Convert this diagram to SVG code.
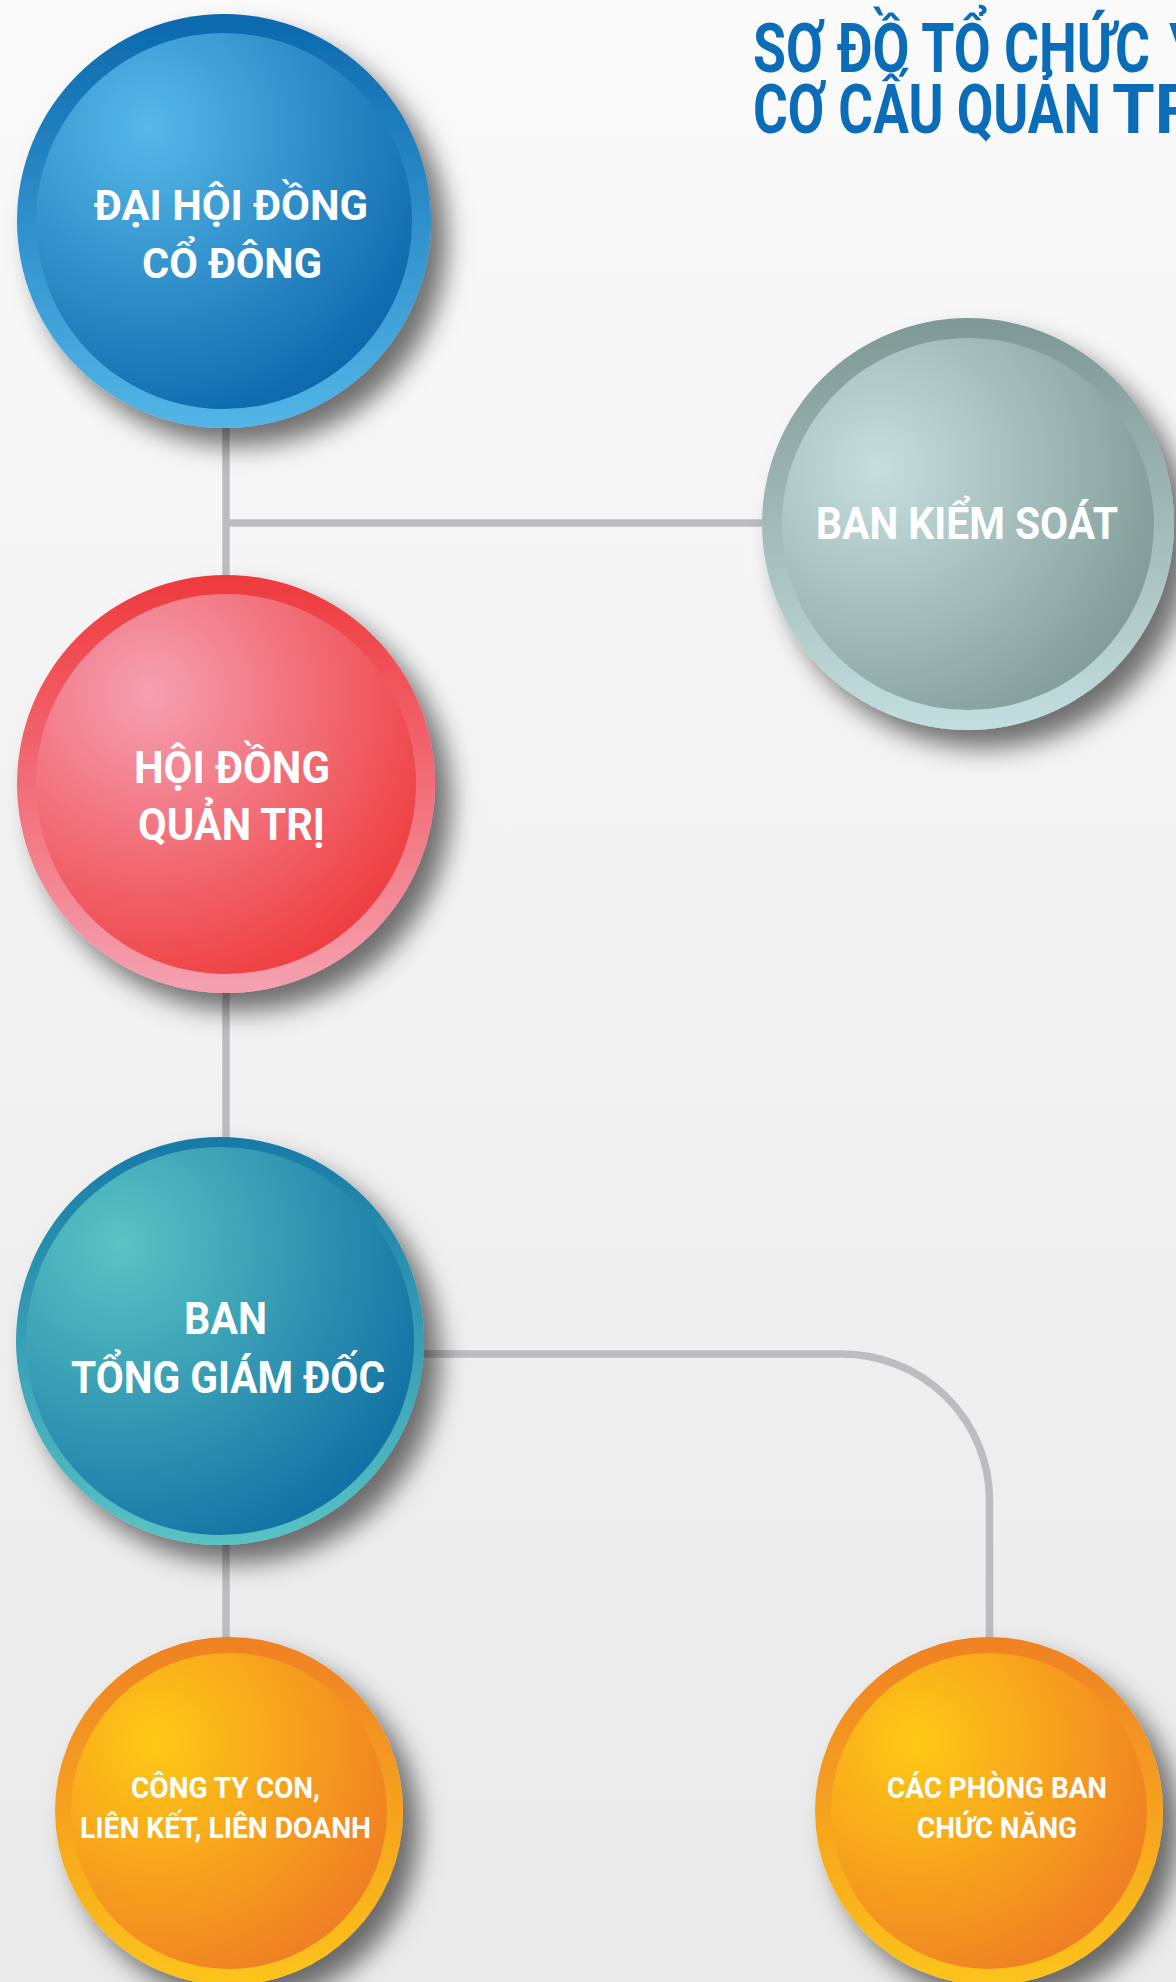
<svg xmlns="http://www.w3.org/2000/svg" width="1176" height="1982" viewBox="0 0 1176 1982">
<style>
.lbl{font-family:Roboto,"Liberation Sans",Arial,sans-serif;font-weight:700;fill:#ffffff}
.ttl{font-family:Roboto,"Liberation Sans",Arial,sans-serif;font-weight:700;fill:#0b6db7;font-size:69px}
.con{fill:none;stroke:#bcbdc0;stroke-width:7.5}
</style>
<defs>
<linearGradient id="bg" x1="0" y1="0" x2="0" y2="1"><stop offset="0" stop-color="#fafafa"/><stop offset="1" stop-color="#eaeaea"/></linearGradient>
<filter id="sh" x="-20%" y="-20%" width="150%" height="150%">
<feGaussianBlur in="SourceAlpha" stdDeviation="13"/>
<feOffset dx="16" dy="18" result="b"/>
<feFlood flood-color="#000" flood-opacity="0.55"/>
<feComposite in2="b" operator="in"/>
<feMerge><feMergeNode/><feMergeNode in="SourceGraphic"/></feMerge>
</filter>
<linearGradient id="r1" x1="0" y1="0" x2="0" y2="1"><stop offset="0" stop-color="#0b69ae"/><stop offset="1" stop-color="#53b6e7"/></linearGradient>
<radialGradient id="i1" cx="0.30" cy="0.25" r="0.85"><stop offset="0" stop-color="#56b9e9"/><stop offset="1" stop-color="#0b65aa"/></radialGradient>
<linearGradient id="r2" x1="0" y1="0" x2="0" y2="1"><stop offset="0" stop-color="#7e9895"/><stop offset="1" stop-color="#c3dede"/></linearGradient>
<radialGradient id="i2" cx="0.26" cy="0.35" r="0.85"><stop offset="0" stop-color="#c5dfdf"/><stop offset="1" stop-color="#7d9893"/></radialGradient>
<linearGradient id="r3" x1="0" y1="0" x2="0" y2="1"><stop offset="0" stop-color="#ee3a3d"/><stop offset="1" stop-color="#f5a1b1"/></linearGradient>
<radialGradient id="i3" cx="0.30" cy="0.26" r="0.85"><stop offset="0" stop-color="#f5a0b2"/><stop offset="1" stop-color="#ee3a3b"/></radialGradient>
<linearGradient id="r4" x1="0" y1="0" x2="0" y2="1"><stop offset="0" stop-color="#177aa7"/><stop offset="1" stop-color="#58c3c4"/></linearGradient>
<radialGradient id="i4" cx="0.24" cy="0.25" r="0.85"><stop offset="0" stop-color="#5ac4c3"/><stop offset="1" stop-color="#1272a5"/></radialGradient>
<linearGradient id="r5" x1="0" y1="0" x2="0" y2="1"><stop offset="0" stop-color="#ef8123"/><stop offset="1" stop-color="#fcc41b"/></linearGradient>
<radialGradient id="i5" cx="0.27" cy="0.28" r="0.85"><stop offset="0" stop-color="#fec916"/><stop offset="1" stop-color="#ef7c24"/></radialGradient>
</defs>
<rect width="1176" height="1982" fill="url(#bg)"/>

<g id="title">
<text class="ttl" x="753" y="72"><tspan textLength="397" lengthAdjust="spacingAndGlyphs">SƠ ĐỒ TỔ CHỨC</tspan> <tspan x="1169">VÀ</tspan></text>
<text class="ttl" x="753" y="133"><tspan textLength="348" lengthAdjust="spacingAndGlyphs">CƠ CẤU QUẢN</tspan> <tspan x="1112">TRỊ</tspan></text>
</g>

<g id="connectors">
<path class="con" d="M226 420 V580"/>
<path class="con" d="M226 523 H775"/>
<path class="con" d="M226 980 V1145"/>
<path class="con" d="M226 1354 H841 A148 146 0 0 1 989.5 1500 V1645"/>
<path class="con" d="M226 1530 V1645"/>
</g>

<g id="dai-hoi-dong-co-dong">
<g filter="url(#sh)"><circle cx="224" cy="221" r="207" fill="url(#r1)"/></g>
<circle cx="224" cy="221" r="188" fill="url(#i1)"/>
<text class="lbl" font-size="42" x="94" y="220" textLength="274" lengthAdjust="spacingAndGlyphs">ĐẠI HỘI ĐỒNG</text>
<text class="lbl" font-size="42" x="142" y="278" textLength="180" lengthAdjust="spacingAndGlyphs">CỔ ĐÔNG</text>
</g>

<g id="ban-kiem-soat">
<g filter="url(#sh)"><circle cx="968" cy="524" r="206" fill="url(#r2)"/></g>
<circle cx="968" cy="524" r="186" fill="url(#i2)"/>
<text class="lbl" font-size="44" x="816" y="539" textLength="302" lengthAdjust="spacingAndGlyphs">BAN KIỂM SOÁT</text>
</g>

<g id="hoi-dong-quan-tri">
<g filter="url(#sh)"><circle cx="226" cy="784" r="209" fill="url(#r3)"/></g>
<circle cx="226" cy="784" r="190" fill="url(#i3)"/>
<text class="lbl" font-size="45" x="134" y="783" textLength="196" lengthAdjust="spacingAndGlyphs">HỘI ĐỒNG</text>
<text class="lbl" font-size="45" x="138" y="840" textLength="187" lengthAdjust="spacingAndGlyphs">QUẢN TRỊ</text>
</g>

<g id="ban-tong-giam-doc">
<g filter="url(#sh)"><circle cx="220" cy="1341" r="204" fill="url(#r4)"/></g>
<circle cx="220" cy="1341" r="194" fill="url(#i4)"/>
<text class="lbl" font-size="44" x="184" y="1334" textLength="83" lengthAdjust="spacingAndGlyphs">BAN</text>
<text class="lbl" font-size="44" x="71" y="1393" textLength="314" lengthAdjust="spacingAndGlyphs">TỔNG GIÁM ĐỐC</text>
</g>

<g id="cong-ty-con">
<g filter="url(#sh)"><circle cx="229" cy="1811" r="174" fill="url(#r5)"/></g>
<circle cx="229" cy="1811" r="158" fill="url(#i5)"/>
<text class="lbl" font-size="30" x="131" y="1798" textLength="189" lengthAdjust="spacingAndGlyphs">CÔNG TY CON,</text>
<text class="lbl" font-size="30" x="80" y="1838" textLength="291" lengthAdjust="spacingAndGlyphs">LIÊN KẾT, LIÊN DOANH</text>
</g>

<g id="cac-phong-ban">
<g filter="url(#sh)"><circle cx="989" cy="1811" r="174" fill="url(#r5)"/></g>
<circle cx="989" cy="1811" r="158" fill="url(#i5)"/>
<text class="lbl" font-size="30" x="887" y="1798" textLength="220" lengthAdjust="spacingAndGlyphs">CÁC PHÒNG BAN</text>
<text class="lbl" font-size="30" x="917" y="1838" textLength="160" lengthAdjust="spacingAndGlyphs">CHỨC NĂNG</text>
</g>
</svg>
